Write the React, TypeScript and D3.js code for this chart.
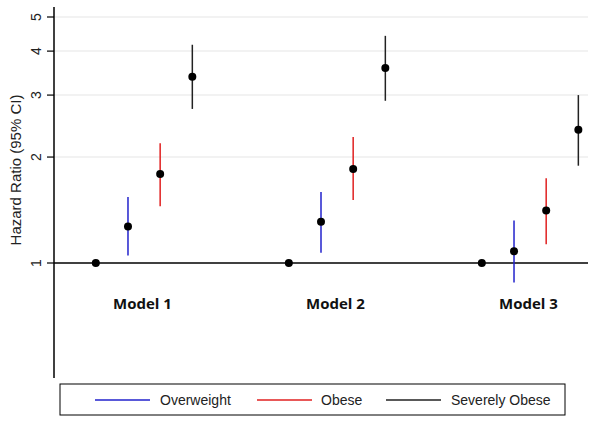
import React from "react";
import * as d3 from "d3";

const models = ["Model 1", "Model 2", "Model 3"];
const seriesNames = ["Reference", "Overweight", "Obese", "Severely Obese"];
const seriesColors = ["#000000", "#2222cc", "#e02020", "#222222"];
const hr = [
  [1, 1.27, 1.79, 3.38],
  [1, 1.31, 1.85, 3.58],
  [1, 1.08, 1.41, 2.39],
];
const lower = [
  [1, 1.05, 1.45, 2.74],
  [1, 1.07, 1.51, 2.89],
  [1, 0.88, 1.13, 1.89],
];
const upper = [
  [1, 1.54, 2.19, 4.17],
  [1, 1.59, 2.28, 4.42],
  [1, 1.32, 1.74, 3.0],
];
const yTicks = [1, 2, 3, 4, 5];
const legendItems = ["Overweight", "Obese", "Severely Obese"];

export default function App() {
  const W = 601, H = 421;
  const y = d3.scaleLog().domain([1, 5]).range([263, 17]);
  const x = d3.scaleLinear().domain([-1.3, 15.3]).range([54, 588]);
  const pos = (g: number, k: number) => x(g * 6 + k);
  const axisTop = 7, axisBottom = 378;
  const legendX = [95, 257, 386];
  const legendTextX = [160, 321, 451];
  return (
    <svg width={W} height={H} style={{ position: "absolute", left: 0, top: 0, background: "#fff" }}>
      {yTicks.filter((t) => t !== 1).map((t) => (
        <line key={"g" + t} x1={54} x2={588} y1={y(t)} y2={y(t)} stroke="#eeeeee" strokeWidth={1.5} />
      ))}
      <line x1={54} x2={588} y1={y(1)} y2={y(1)} stroke="#000" strokeWidth={1.5} />
      <line x1={54} x2={54} y1={axisTop} y2={axisBottom} stroke="#000" strokeWidth={1.5} />
      {yTicks.map((t) => (
        <g key={"t" + t}>
          <line x1={47} x2={54} y1={y(t)} y2={y(t)} stroke="#000" strokeWidth={1.2} />
          <text
            transform={`translate(41,${y(t)}) rotate(-90)`}
            textAnchor="middle"
            fontFamily="Liberation Sans, Arial, sans-serif"
            fontSize={14}
            fill="#222"
          >
            {t}
          </text>
        </g>
      ))}
      <text
        transform={`translate(21,170) rotate(-90)`}
        textAnchor="middle"
        fontFamily="Liberation Sans, Arial, sans-serif"
        fontSize={15}
        fill="#222"
      >
        Hazard Ratio (95% CI)
      </text>
      {hr.map((row, g) =>
        row.map((v, k) => (
          <g key={`p${g}-${k}`}>
            {k > 0 && (
              <line
                x1={pos(g, k)}
                x2={pos(g, k)}
                y1={y(lower[g][k])}
                y2={y(upper[g][k])}
                stroke={seriesColors[k]}
                strokeWidth={1.5}
              />
            )}
            <circle cx={pos(g, k)} cy={y(v)} r={4} fill="#000" />
          </g>
        ))
      )}
      {models.map((m, g) => (
        <text
          key={m}
          x={pos(g, 1.45)}
          y={309}
          textAnchor="middle"
          fontFamily="Open Sans, sans-serif"
          fontWeight="bold"
          fontSize={15}
          fill="#111"
        >
          {m}
        </text>
      ))}
      <rect x={60} y={384} width={505} height={31} fill="#fff" stroke="#000" strokeWidth={1} />
      {legendItems.map((name, i) => (
        <g key={name}>
          <line x1={legendX[i]} x2={legendX[i] + 55} y1={400} y2={400} stroke={seriesColors[i + 1]} strokeWidth={1.5} />
          <text
            x={legendTextX[i]}
            y={405}
            fontFamily="Liberation Sans, Arial, sans-serif"
            fontSize={14}
            fill="#222"
          >
            {name}
          </text>
        </g>
      ))}
    </svg>
  );
}
